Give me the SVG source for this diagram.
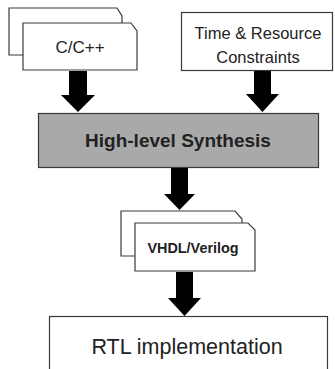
<svg xmlns="http://www.w3.org/2000/svg" width="335" height="369" viewBox="0 0 335 369">
<style>
.box{fill:#fff;stroke:#3a3a3a;stroke-width:1.2}
.grey{fill:#a9a9a9;stroke:#3a3a3a;stroke-width:1.2}
.arrow{fill:#000}
text{font-family:"Liberation Sans",Arial,sans-serif;fill:#222;text-anchor:middle}
.b{font-weight:bold}
</style>
<rect width="335" height="369" fill="#fff"/>
<g id="ccpp">
<path class="box" d="M9,8 H117 L122,16 V55 H9 Z"/>
<path class="box" d="M23,23 H131 L137,31 V70 H23 Z"/>
<text x="80" y="53" font-size="17">C/C++</text>
</g>
<g id="constraints">
<rect class="box" x="181.5" y="12.5" width="151" height="58"/>
<text x="258" y="39" font-size="16.5">Time &amp; Resource</text>
<text x="258" y="63" font-size="16.5">Constraints</text>
</g>
<g id="hls">
<rect class="grey" x="38.5" y="113.5" width="280" height="54"/>
<text class="b" x="178" y="147" font-size="19">High-level Synthesis</text>
</g>
<g id="hdl">
<path class="box" d="M121,211 H235 L242,219 V256 H121 Z"/>
<path class="box" d="M135,223 H248 L255,230 V271 H135 Z"/>
<text class="b" x="193" y="253" font-size="14.4">VHDL/Verilog</text>
</g>
<g id="rtl">
<rect class="box" x="49.5" y="316.5" width="278" height="60"/>
<text x="187" y="354" font-size="21.5">RTL implementation</text>
</g>
<g id="connectors">
<path class="arrow" d="M69,71 H87 V95 H95 L78,112 L61,95 H69 Z"/>
<path class="arrow" d="M254,71 H271 V94 H279 L262.5,112 L246,94 H254 Z"/>
<path class="arrow" d="M171,168 H188 V194 H195 L179.5,210 L164,194 H171 Z"/>
<path class="arrow" d="M176,272 H193 V298 H201 L184.5,316 L168,298 H176 Z"/>
</g>
</svg>
